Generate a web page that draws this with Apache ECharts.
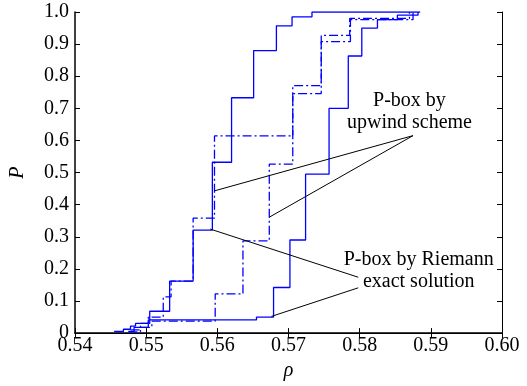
<!DOCTYPE html>
<html>
<head>
<meta charset="utf-8">
<script src="https://cdn.jsdelivr.net/npm/echarts@6/dist/echarts.min.js"></script>
<style>
  html, body { margin: 0; padding: 0; background: #fff; }
  #chart { width: 527px; height: 386px; }
</style>
</head>
<body>
<div id="chart"></div>
<script>
// P-box bounds, [rho, P] pairs (jump at rho to P)
var riemann_left = [[0.5455,0.005],[0.5468,0.012],[0.5478,0.022],[0.5485,0.03],[0.5505,0.068],[0.5533,0.162],[0.5566,0.321],[0.5593,0.532],[0.5620,0.733],[0.5651,0.880],[0.5683,0.957],[0.5705,0.985],[0.5733,1.0],[0.5885,1.0]]
var riemann_right = [[0.5475,0.005],[0.5483,0.018],[0.5503,0.041],[0.5655,0.05],[0.5679,0.142],[0.5702,0.29],[0.5724,0.495],[0.5757,0.70],[0.5784,0.863],[0.5803,0.950],[0.5825,0.976],[0.5853,0.99],[0.5882,1.0]]
var upwind_left = [[0.5478,0.01],[0.5492,0.03],[0.5503,0.05],[0.5524,0.113],[0.5535,0.162],[0.5566,0.358],[0.5596,0.614],[0.5706,0.771],[0.5746,0.927],[0.5786,0.98],[0.5870,1.0]]
var upwind_right = [[0.5475,0.004],[0.5492,0.018],[0.5508,0.037],[0.5597,0.122],[0.5636,0.287],[0.5673,0.526],[0.5706,0.746],[0.5746,0.908],[0.5787,0.976],[0.5875,1.0]]

// annotation pointer lines and text anchors (data coords)
var upwind_ptr = [[0.5596,0.443],[0.5875,0.615],[0.5673,0.361]]
var riemann_ptr1 = [[0.5590,0.324],[0.5798,0.174]]
var riemann_ptr2 = [[0.5798,0.141],[0.5676,0.052]]
var upwind_txt = [0.5870,0.690]
var riemann_txt = [0.5883,0.193]

var font = 'Liberation Serif'
var blue = '#0000ff'

function bound(data, dashed){
    return {
        type:'line', data:data, step:'end', showSymbol:false, symbol:'none',
        lineStyle:{color:blue, width:1.3, type: dashed ? [9,3,2,3] : 'solid'},
        silent:true, z:2
    }
}
function pointer(data){
    return {type:'line', data:data, symbol:'none', lineStyle:{color:'#000', width:1}, silent:true, z:3}
}
function note(pos, txt){
    return {
        type:'scatter', data:[pos], symbolSize:0, silent:true,
        itemStyle:{opacity:1},
        label:{show:true, position:'inside', formatter:txt, fontFamily:font, fontSize:20, lineHeight:22,
               color:'#000', opacity:1, textBorderWidth:0, textBorderColor:'transparent', align:'center'}
    }
}

var axisLine = {show:true, lineStyle:{color:'#000', width:1.5}}
var tick = {show:true, inside:true, length:5, lineStyle:{color:'#000', width:1}}

var chart = echarts.init(document.getElementById('chart'))
chart.setOption({
    animation:false,
    grid:{left:72, right:25, top:12, bottom:47},
    xAxis:[{
        type:'value', min:0.54, max:0.60, interval:0.01, position:'bottom',
        axisLine:axisLine, axisTick:tick, splitLine:{show:false},
        axisLabel:{formatter:function(v){return v.toFixed(2)}, fontFamily:font, fontSize:20, color:'#000', margin:3},
        name:'ρ', nameLocation:'middle', nameGap:20,
        nameTextStyle:{fontFamily:font, fontSize:20, fontStyle:'italic', color:'#000'}
    },{
        type:'value', min:0.54, max:0.60, interval:0.01, position:'top',
        axisLine:{show:true, lineStyle:{color:'#000', width:1}}, axisTick:tick, axisLabel:{show:false}, splitLine:{show:false}
    }],
    yAxis:[{
        type:'value', min:0, max:1, interval:0.1, position:'left',
        axisLine:axisLine, axisTick:tick, splitLine:{show:false},
        axisLabel:{formatter:function(v){return v === 0 ? '0' : v.toFixed(1)}, fontFamily:font, fontSize:20, color:'#000', margin:6},
        name:'P', nameLocation:'middle', nameGap:47,
        nameTextStyle:{fontFamily:font, fontSize:20, fontStyle:'italic', color:'#000'}
    },{
        type:'value', min:0, max:1, interval:0.1, position:'right',
        axisLine:{show:true, lineStyle:{color:'#000', width:1}}, axisTick:tick, axisLabel:{show:false}, splitLine:{show:false}
    }],
    series:[
        bound(riemann_left, false),
        bound(riemann_right, false),
        bound(upwind_left, true),
        bound(upwind_right, true),
        pointer(upwind_ptr),
        pointer(riemann_ptr1),
        pointer(riemann_ptr2),
        note(upwind_txt, 'P-box by\nupwind scheme'),
        note(riemann_txt, 'P-box by Riemann\nexact solution')
    ]
})
</script>
</body>
</html>
